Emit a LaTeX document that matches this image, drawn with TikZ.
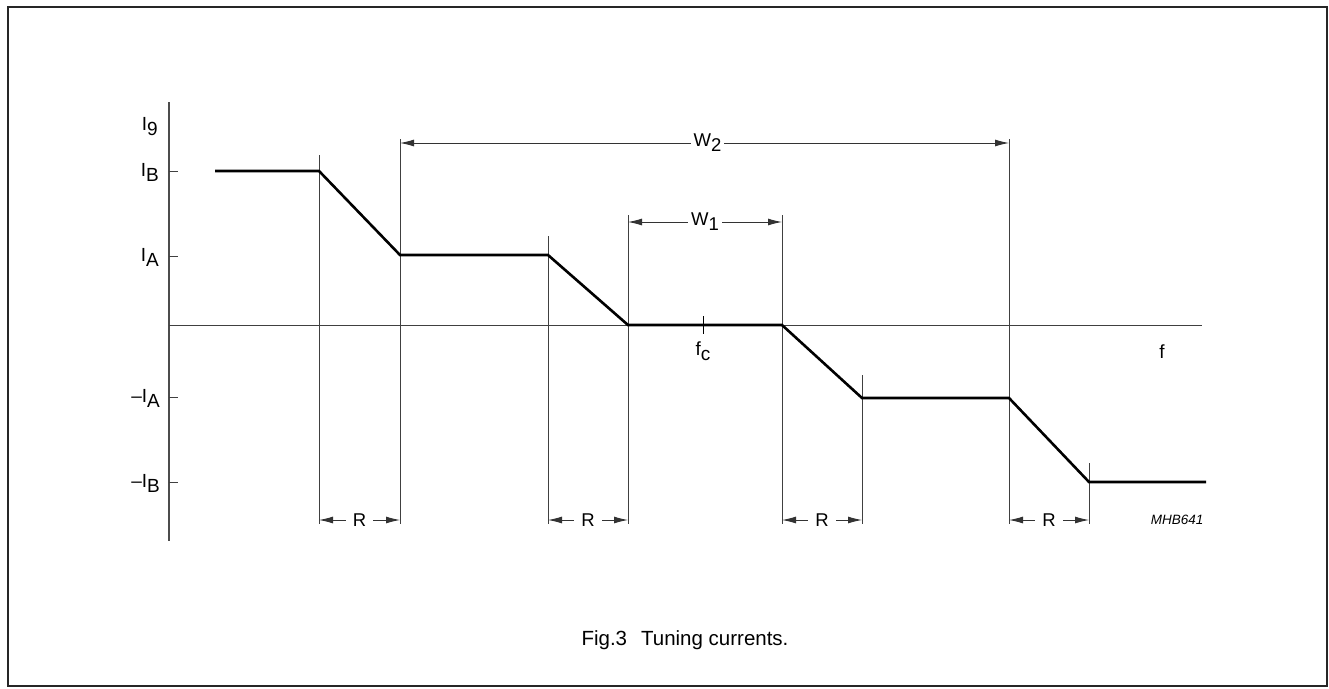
\documentclass[tikz,border=0pt]{standalone}
\usepackage{fontspec}
\setmainfont{Liberation Sans}
\usetikzlibrary{arrows.meta}
\tikzset{
  thin line/.style={line width=0.9pt, draw=black!75},
  axis line/.style={line width=1.8pt, draw=black!70},
  curve line/.style={line width=2.6pt, draw=black, line join=miter},
  dim/.style={line width=0.9pt, draw=black!80, {Latex[length=14pt,width=7pt]}-{Latex[length=14pt,width=7pt]}},
  dimlabel/.style={fill=white, inner sep=3pt, font=\fontsize{18.5}{20}\selectfont},
  lab/.style={font=\fontsize{19}{21}\selectfont, inner sep=0pt},
}
\newcommand{\sub}[2]{#1\raisebox{-5pt}{#2}}
\begin{document}
\begin{tikzpicture}[x=1pt,y=-1pt]
\useasboundingbox (0,0) rectangle (1329,688);
\draw[line width=1.6pt, draw=black!85] (8,7) rectangle (1327,686);
% axes
\coordinate (yt) at (169,102);
\coordinate (yb) at (169,541);
\coordinate (xl) at (169,325);
\coordinate (xr) at (1202,325);
\draw[axis line] (yt) -- (yb);
\draw[thin line] (xl) -- (xr);
% ticks
\foreach \y/\n in {171/tB,256/tA,397/tmA,482/tmB}{
  \coordinate (\n) at (169,\y);
  \draw[thin line] (\n) -- ++(9,0);
}
% curve points
\coordinate (c0) at (215,171);
\coordinate (c1) at (319,171);
\coordinate (c2) at (400,255);
\coordinate (c3) at (548,255);
\coordinate (c4) at (628,325);
\coordinate (c5) at (782,325);
\coordinate (c6) at (862,398);
\coordinate (c7) at (1009,398);
\coordinate (c8) at (1089,482);
\coordinate (c9) at (1206,482);
% vertical lines
\foreach \x/\t/\n in {319/155/v1,400/139/v2,548/236/v3,628/215/v4,782/215/v5,862/375/v6,1009/139/v7,1089/463/v8}{
  \coordinate (\n t) at (\x,\t);
  \coordinate (\n b) at (\x,524);
  \draw[thin line] (\n t) -- (\n b);
}
\draw[curve line] (c0) -- (c1) -- (c2) -- (c3) -- (c4) -- (c5) -- (c6) -- (c7) -- (c8) -- (c9);
% fc tick
\coordinate (fct) at (703,316);
\coordinate (fcb) at (703,334);
\draw[thin line, draw=black] (fct) -- (fcb);
% dimension arrows
\coordinate (w2l) at (400,143);
\coordinate (w2r) at (1009,143);
\draw[dim] (w2l) -- (w2r) node[dimlabel, pos=0.505] (w2) {W\raisebox{-5pt}{2}};
\coordinate (w1l) at (628,222);
\coordinate (w1r) at (782,222);
\draw[dim] (w1l) -- (w1r) node[dimlabel, midway] (w1) {W\raisebox{-5pt}{1}};
\foreach \a/\b/\n in {319/400/r1,548/628/r2,782/862/r3,1009/1089/r4}{
  \coordinate (\n l) at (\a,520);
  \coordinate (\n r) at (\b,520);
  \draw[dim] (\n l) -- (\n r) node[dimlabel, midway, inner xsep=7pt] (\n) {R};
}
% labels
\node[lab, anchor=east] (I9) at (158,127) {\sub{I}{9}};
\node[lab, anchor=east] (IB) at (159,172) {\sub{I}{B}};
\node[lab, anchor=east] (IA) at (159,257) {\sub{I}{A}};
\node[lab, anchor=east] (mIA) at (160,398) {\sub{--I}{A}};
\node[lab, anchor=east] (mIB) at (160,483) {\sub{--I}{B}};
\node[lab] (fc) at (703,351) {\sub{f}{c}};
\node[lab] (f) at (1162,352) {f};
\node[font=\itshape\fontsize{13.5}{15}\selectfont, anchor=east] (code) at (1207,520) {MHB641};
\node[font=\fontsize{20.5}{22}\selectfont] (cap) at (685,640) {Fig.3\hspace{14pt}Tuning currents.};
\end{tikzpicture}
\end{document}
